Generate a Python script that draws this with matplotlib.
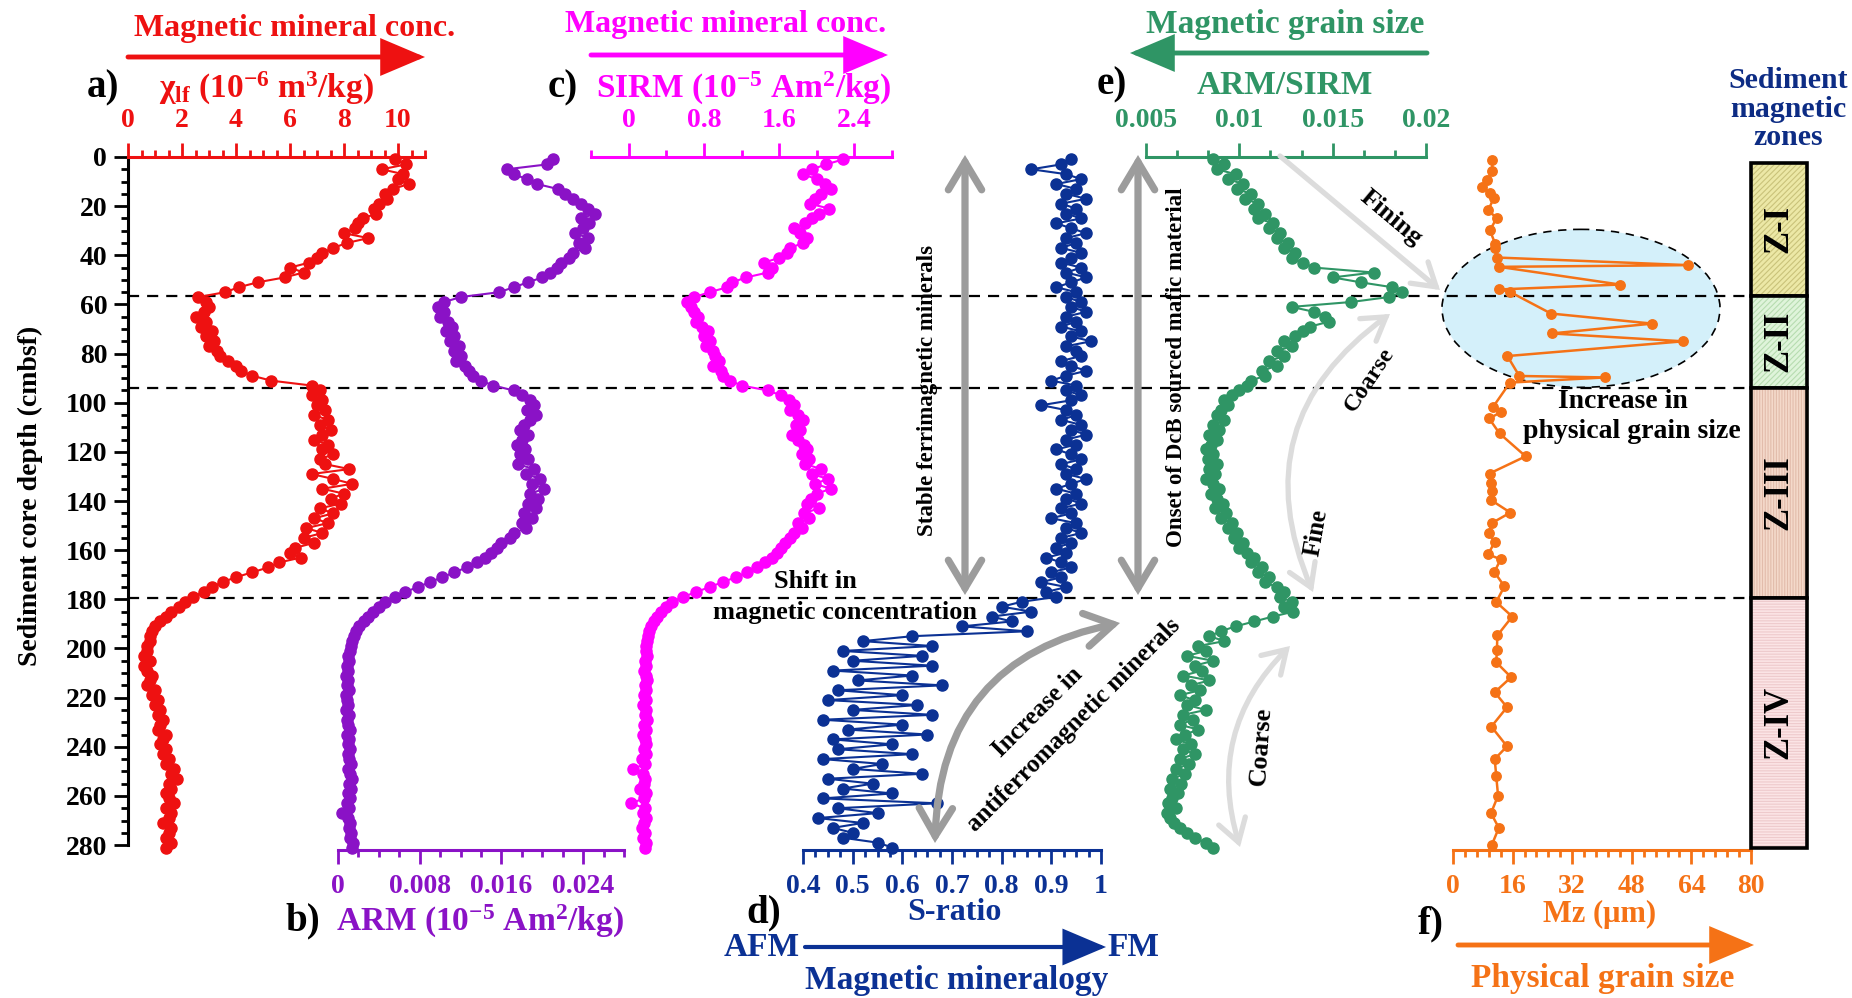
import numpy as np
import matplotlib
matplotlib.use("Agg")
import matplotlib.pyplot as plt
from matplotlib.patches import Ellipse, Rectangle, FancyArrowPatch
from matplotlib.ticker import MultipleLocator, AutoMinorLocator, FuncFormatter

plt.rcParams['font.family'] = ['Liberation Serif', 'DejaVu Serif']
plt.rcParams['font.weight'] = 'bold'
plt.rcParams['mathtext.fontset'] = 'custom'
plt.rcParams['mathtext.rm'] = 'Liberation Serif:bold'
plt.rcParams['mathtext.it'] = 'Liberation Serif:bold'
plt.rcParams['mathtext.bf'] = 'Liberation Serif:bold'
plt.rcParams['mathtext.default'] = 'rm'
plt.rcParams['hatch.linewidth'] = 0.8

# ---- core data (sampled every 2 cm) ----
depth = np.arange(1, 282, 2)

chi_lf = [9.9, 10.3, 9.4, 10.2, 10.0, 10.4, 9.8, 9.5, 9.6, 9.3,
          9.1, 9.2, 8.7, 8.5, 8.4, 8.0, 8.9, 8.1, 7.6, 7.2,
          7.0, 6.7, 6.0, 6.5, 5.8, 4.8, 4.1, 3.6, 2.6, 2.9,
          3.0, 2.8, 2.5, 2.9, 2.7, 3.1, 2.9, 3.2, 3.0, 3.3,
          3.4, 3.7, 4.0, 4.2, 4.6, 5.3, 6.8, 7.1, 6.8, 7.2,
          7.0, 7.3, 6.9, 7.4, 7.1, 7.5, 7.2, 6.9, 7.4, 7.2,
          7.6, 7.1, 7.3, 8.2, 6.8, 7.6, 8.3, 7.2, 8.0, 7.5,
          7.9, 7.1, 7.6, 6.9, 7.4, 6.6, 7.2, 6.5, 6.9, 6.2,
          6.0, 6.4, 5.6, 5.2, 4.6, 4.0, 3.5, 3.1, 2.8, 2.4,
          2.1, 1.9, 1.6, 1.4, 1.2, 1.0, 0.9, 0.8, 0.8, 0.7,
          0.7, 0.6, 0.8, 0.6, 0.7, 0.9, 0.8, 0.7, 1.0, 0.9,
          1.1, 1.0, 1.2, 1.1, 1.3, 1.2, 1.1, 1.4, 1.3, 1.2,
          1.4, 1.3, 1.5, 1.4, 1.7, 1.6, 1.8, 1.5, 1.6, 1.4,
          1.5, 1.7, 1.4, 1.6, 1.5, 1.3, 1.6, 1.5, 1.4, 1.6,
          1.4]

arm = [0.0210, 0.0205, 0.0165, 0.0172, 0.0185, 0.0195, 0.0215, 0.0222, 0.0230, 0.0238,
       0.0245, 0.0252, 0.0238, 0.0246, 0.0240, 0.0232, 0.0245, 0.0236, 0.0242, 0.0230,
       0.0226, 0.0218, 0.0214, 0.0208, 0.0200, 0.0186, 0.0172, 0.0158, 0.0120, 0.0104,
       0.0098, 0.0104, 0.0100, 0.0108, 0.0112, 0.0106, 0.0114, 0.0110, 0.0118, 0.0114,
       0.0120, 0.0116, 0.0124, 0.0128, 0.0132, 0.0140, 0.0152, 0.0172, 0.0180, 0.0188,
       0.0192, 0.0185, 0.0194, 0.0188, 0.0182, 0.0178, 0.0186, 0.0180, 0.0175, 0.0183,
       0.0178, 0.0186, 0.0176, 0.0192, 0.0184, 0.0198, 0.0190, 0.0202, 0.0188, 0.0196,
       0.0186, 0.0194, 0.0182, 0.0190, 0.0180, 0.0184, 0.0172, 0.0168, 0.0160, 0.0156,
       0.0150, 0.0144, 0.0136, 0.0126, 0.0114, 0.0102, 0.0090, 0.0078, 0.0066, 0.0056,
       0.0046, 0.0040, 0.0034, 0.0029, 0.0025, 0.0021, 0.0018, 0.0016, 0.0014, 0.0013,
       0.0012, 0.0010, 0.0011, 0.0009, 0.0010, 0.0008, 0.0010, 0.0009, 0.0011, 0.0008,
       0.0009, 0.0010, 0.0008, 0.0011, 0.0009, 0.0010, 0.0012, 0.0009, 0.0011, 0.0010,
       0.0012, 0.0010, 0.0011, 0.0013, 0.0010, 0.0012, 0.0014, 0.0011, 0.0013, 0.0010,
       0.0012, 0.0009, 0.0011, 0.0004, 0.0010, 0.0012, 0.0011, 0.0013, 0.0012, 0.0015,
       0.0014]

sirm = [2.28, 2.10, 1.95, 1.85, 2.00, 2.09, 2.15, 2.05, 1.98, 1.93,
        2.13, 2.02, 1.95, 1.88, 1.76, 1.82, 1.90, 1.85, 1.72, 1.68,
        1.60, 1.44, 1.52, 1.48, 1.25, 1.10, 1.05, 0.86, 0.70, 0.62,
        0.66, 0.70, 0.74, 0.72, 0.78, 0.84, 0.80, 0.86, 0.82, 0.90,
        0.92, 0.96, 0.90, 0.98, 1.00, 1.08, 1.20, 1.48, 1.62, 1.70,
        1.76, 1.72, 1.80, 1.85, 1.78, 1.82, 1.74, 1.80, 1.86, 1.90,
        1.84, 1.92, 1.88, 2.05, 1.95, 2.12, 1.98, 2.15, 2.00, 1.94,
        1.90, 2.02, 1.86, 1.92, 1.80, 1.84, 1.76, 1.72, 1.66, 1.62,
        1.58, 1.52, 1.45, 1.36, 1.26, 1.14, 1.00, 0.86, 0.72, 0.58,
        0.46, 0.40, 0.34, 0.30, 0.27, 0.24, 0.22, 0.21, 0.20, 0.19,
        0.18, 0.20, 0.17, 0.19, 0.16, 0.18, 0.20, 0.17, 0.19, 0.16,
        0.18, 0.15, 0.19, 0.17, 0.20, 0.16, 0.18, 0.15, 0.17, 0.19,
        0.16, 0.18, 0.14, 0.17, 0.05, 0.15, 0.17, 0.16, 0.12, 0.18,
        0.16, 0.03, 0.17, 0.15, 0.18, 0.16, 0.14, 0.17, 0.15, 0.18,
        0.17]

s_ratio = [0.94, 0.92, 0.86, 0.93, 0.96, 0.91, 0.95, 0.93, 0.97, 0.92,
           0.95, 0.93, 0.96, 0.91, 0.94, 0.97, 0.93, 0.95, 0.92, 0.96,
           0.94, 0.92, 0.96, 0.93, 0.97, 0.94, 0.91, 0.95, 0.93, 0.96,
           0.94, 0.97, 0.93, 0.95, 0.92, 0.96, 0.94, 0.98, 0.93, 0.95,
           0.96, 0.92, 0.94, 0.97, 0.93, 0.90, 0.95, 0.93, 0.96, 0.94,
           0.88, 0.93, 0.95, 0.92, 0.96, 0.94, 0.97, 0.93, 0.95, 0.91,
           0.94, 0.96, 0.92, 0.95, 0.93, 0.97, 0.94, 0.91, 0.95, 0.93,
           0.96, 0.92, 0.94, 0.90, 0.95, 0.93, 0.96, 0.92, 0.94, 0.91,
           0.93, 0.89, 0.92, 0.94, 0.90, 0.92, 0.88, 0.93, 0.89, 0.91,
           0.84, 0.80, 0.86, 0.78, 0.82, 0.72, 0.85, 0.62, 0.52, 0.66,
           0.48, 0.64, 0.50, 0.66, 0.46, 0.62, 0.51, 0.68, 0.47, 0.60,
           0.45, 0.63, 0.50, 0.66, 0.44, 0.60, 0.49, 0.65, 0.46, 0.58,
           0.47, 0.62, 0.44, 0.56, 0.50, 0.64, 0.45, 0.54, 0.48, 0.58,
           0.44, 0.67, 0.47, 0.55, 0.43, 0.52, 0.46, 0.50, 0.48, 0.55,
           0.58]

arm_sirm = [0.0086, 0.0092, 0.0088, 0.0098, 0.0094, 0.0102, 0.0099, 0.0106, 0.0103, 0.0110,
            0.0108, 0.0114, 0.0110, 0.0118, 0.0116, 0.0122, 0.0120, 0.0126, 0.0124, 0.0130,
            0.0128, 0.0134, 0.0140, 0.0172, 0.0150, 0.0165, 0.0182, 0.0187, 0.0180, 0.0160,
            0.0128, 0.0140, 0.0146, 0.0148, 0.0138, 0.0134, 0.0130, 0.0124, 0.0128, 0.0120,
            0.0124, 0.0116, 0.0120, 0.0112, 0.0114, 0.0106, 0.0104, 0.0100, 0.0096, 0.0092,
            0.0094, 0.0090, 0.0088, 0.0092, 0.0086, 0.0089, 0.0084, 0.0088, 0.0085, 0.0082,
            0.0086, 0.0083, 0.0088, 0.0084, 0.0087, 0.0082, 0.0086, 0.0089, 0.0085, 0.0088,
            0.0091, 0.0087, 0.0093, 0.0090, 0.0096, 0.0094, 0.0099, 0.0097, 0.0102, 0.0100,
            0.0104, 0.0108, 0.0106, 0.0112, 0.0110, 0.0116, 0.0114, 0.0120, 0.0124, 0.0122,
            0.0128, 0.0124, 0.0129, 0.0118, 0.0108, 0.0098, 0.0090, 0.0084, 0.0092, 0.0078,
            0.0082, 0.0072, 0.0086, 0.0076, 0.0080, 0.0070, 0.0084, 0.0074, 0.0079, 0.0068,
            0.0076, 0.0072, 0.0082, 0.0070, 0.0075, 0.0068, 0.0078, 0.0071, 0.0066, 0.0074,
            0.0070, 0.0076, 0.0068, 0.0073, 0.0066, 0.0071, 0.0064, 0.0069, 0.0063, 0.0067,
            0.0064, 0.0062, 0.0066, 0.0061, 0.0063, 0.0065, 0.0068, 0.0072, 0.0076, 0.0082,
            0.0086]

# grain size has its own sampling
mz_depth = [1.2, 5.9, 9.4, 12.1, 14.8, 16.8, 21.6, 25.0, 29.8, 35.2, 37.2, 40.9, 44.0, 44.7,
            51.9, 53.9, 54.9, 63.7, 67.8, 71.8, 75.0, 81.0, 89.1, 89.7, 91.8, 101.6, 103.7,
            106.4, 112.5, 121.8, 128.8, 132.6, 135.9, 139.7, 144.7, 148.9, 152.9, 156.7,
            161.7, 163.7, 168.9, 174.7, 181.1, 187.0, 194.7, 200.5, 205.6, 211.7, 217.8,
            223.9, 231.8, 239.8, 245.0, 251.8, 259.9, 267.0, 273.0, 280.0]
mz = [10.4, 10.6, 9.1, 7.9, 9.9, 10.9, 9.5, 11.7, 9.9, 11.3, 11.3, 11.7, 63.2, 12.4,
      44.8, 12.4, 15.3, 26.3, 53.5, 26.5, 61.8, 14.6, 17.8, 40.8, 15.3, 10.8, 13.0,
      9.7, 12.5, 19.5, 9.8, 10.3, 10.6, 10.3, 15.4, 10.5, 9.6, 11.2,
      9.4, 12.8, 11.1, 13.8, 11.6, 15.9, 11.9, 11.8, 11.6, 15.6, 11.2,
      14.5, 10.3, 14.5, 11.2, 11.6, 12.1, 10.2, 12.3, 10.4]

zone_edges = [2.5, 56.4, 94.0, 179.5, 281.0]
zone_names = ['Z-I', 'Z-II', 'Z-III', 'Z-IV']
zone_face = ['#ece8a6', '#dff4da', '#f4d9ca', '#fbe4e5']
zone_hatch_col = ['#c9c27a', '#b7dcb0', '#e2bcab', '#eecacc']
zone_hatch = ['//////', '//////', '||||||', '------']

RED, PURPLE, MAGENTA = '#ee1111', '#8a12c6', '#ff00ff'
BLUE, GREEN, ORANGE = '#0b3194', '#2f9565', '#f57216'
NAVY = '#0d2c84'
DARKGRAY, LIGHTGRAY = '#9c9c9c', '#dcdcdc'

W, H = 1852, 998
TOP, BOT = 157, 850          # pixel rows of depth 0 and the lower axes
fig = plt.figure(figsize=(W / 100, H / 100), dpi=100)


def rect(x0, x1):
    return [x0 / W, 1 - BOT / H, (x1 - x0) / W, (BOT - TOP) / H]


def fmt(v, pos):
    return f'{v:g}'


def panel(x0, x1, side, color, xlim, major, nminor):
    ax = fig.add_axes(rect(x0, x1))
    ax.set_facecolor('none')
    ax.set_xlim(*xlim)
    ax.set_ylim(282, 0)
    for s in ax.spines.values():
        s.set_visible(False)
    ax.spines[side].set_visible(True)
    ax.spines[side].set_color(color)
    ax.spines[side].set_linewidth(2.2)
    ax.xaxis.set_ticks_position(side)
    ax.xaxis.set_major_locator(MultipleLocator(major))
    ax.xaxis.set_minor_locator(AutoMinorLocator(nminor))
    ax.xaxis.set_major_formatter(FuncFormatter(fmt))
    ax.tick_params(axis='x', which='both', colors=color, width=2, direction='out',
                   labelsize=20, pad=7)
    ax.tick_params(axis='x', which='major', length=10)
    ax.tick_params(axis='x', which='minor', length=5)
    ax.tick_params(axis='y', which='both', left=False, labelleft=False)
    return ax


def trace(ax, x, y, color, ms=8, lw=1.5):
    ax.plot(x, y, '-o', color=color, ms=ms, lw=lw, clip_on=False)


# background layer: zone boundaries and highlight ellipse
bg = fig.add_axes([0, 1 - BOT / H, 1, (BOT - TOP) / H])
bg.set_xlim(0, W)
bg.set_ylim(282, 0)
bg.axis('off')
bg.set_zorder(-1)
bg.add_patch(Ellipse((1581, 61.6), 278, 64.3, facecolor='#d4f0fa', edgecolor='k',
                     ls=(0, (5, 4)), lw=1.2, zorder=1))
bg.hlines(zone_edges[1:-1], 128, 1751, colors='k', linestyles=(0, (5, 3.6)), lw=1.6, zorder=2)

ax_a = panel(128, 425, 'top', RED, (0, 11), 2, 4)
ax_a.spines['left'].set_visible(True)
ax_a.spines['left'].set_bounds(0, 280)
ax_a.spines['left'].set_linewidth(2.2)
ax_a.yaxis.set_major_locator(MultipleLocator(20))
ax_a.yaxis.set_minor_locator(MultipleLocator(5))
ax_a.tick_params(axis='y', which='both', left=True, labelleft=True, colors='k', width=2,
                 direction='out', labelsize=20, pad=5)
ax_a.tick_params(axis='y', which='major', length=10)
ax_a.tick_params(axis='y', which='minor', length=5)
trace(ax_a, chi_lf, depth, RED)

ax_b = panel(338, 624, 'bottom', PURPLE, (0, 0.028), 0.008, 4)
trace(ax_b, arm, depth, PURPLE)

ax_c = panel(591, 892, 'top', MAGENTA, (-0.4, 2.8), 0.8, 2)
trace(ax_c, sirm, depth, MAGENTA)

ax_d = panel(803, 1101, 'bottom', BLUE, (0.4, 1.0), 0.1, 4)
trace(ax_d, s_ratio, depth, BLUE)

ax_e = panel(1146, 1426, 'top', GREEN, (0.005, 0.02), 0.005, 3)
trace(ax_e, arm_sirm, depth, GREEN)

ax_f = panel(1453, 1751, 'bottom', ORANGE, (0, 80), 16, 5)
trace(ax_f, mz, mz_depth, ORANGE, ms=6.8, lw=1.8)

# zone column
zax = fig.add_axes(rect(1751, 1807))
zax.set_xlim(0, 1)
zax.set_ylim(282, 0)
zax.axis('off')
for i, name in enumerate(zone_names):
    top, bot = zone_edges[i], zone_edges[i + 1]
    zax.add_patch(Rectangle((0, top), 1, bot - top, facecolor=zone_face[i],
                            edgecolor=zone_hatch_col[i], hatch=zone_hatch[i], lw=0))
    zax.add_patch(Rectangle((0, top), 1, bot - top, facecolor='none', edgecolor='k',
                            lw=2.6, clip_on=False))
    zax.text(0.5, (top + bot) / 2, name, rotation=90, ha='center', va='center',
             fontsize=25, color='k')

# overlay layer in pixel coordinates for labels and arrows
ov = fig.add_axes([0, 0, 1, 1])
ov.set_xlim(0, W)
ov.set_ylim(H, 0)
ov.axis('off')
ov.set_zorder(5)


def txt(x, y, s, color='k', size=19, **kw):
    ov.text(x, y, s, color=color, fontsize=size, ha='center', va='center', **kw)


def arrow(p0, p1, style, color, lw, rad=0.0, ms=20):
    ov.add_patch(FancyArrowPatch(p0, p1, arrowstyle=style, color=color, lw=lw,
                                 connectionstyle=f'arc3,rad={rad}', mutation_scale=ms,
                                 shrinkA=0, shrinkB=0, joinstyle='miter'))


head = '-|>,head_length=1.3,head_width=0.55'

# panel a
txt(295, 28, 'Magnetic mineral conc.', RED, 23)
arrow((128, 57), (425, 57), head, RED, 3.5)
txt(103, 88, 'a)', 'k', 28)
txt(266, 88, r'χ$_{\mathrm{lf}}$ (10$^{\mathrm{-6}}$ m$^{\mathrm{3}}$/kg)', RED, 24)
txt(30, 496, 'Sediment core depth (cmbsf)', 'k', 20, rotation=90)

# panel c
txt(726, 24, 'Magnetic mineral conc.', MAGENTA, 23)
arrow((591, 55), (888, 55), head, MAGENTA, 3.5)
txt(563, 88, 'c)', 'k', 28)
txt(744, 88, r'SIRM (10$^{\mathrm{-5}}$ Am$^{\mathrm{2}}$/kg)', MAGENTA, 24)

# panel e
txt(1285, 24, 'Magnetic grain size', GREEN, 24)
arrow((1427, 53), (1130, 53), head, GREEN, 3.5)
txt(1112, 85, 'e)', 'k', 28)
txt(1285, 85, 'ARM/SIRM', GREEN, 24)

txt(1788, 109, 'Sediment\nmagnetic\nzones', NAVY, 21.5, linespacing=1.05)

# panel b
txt(303, 921, 'b)', 'k', 28)
txt(480, 921, r'ARM (10$^{\mathrm{-5}}$ Am$^{\mathrm{2}}$/kg)', PURPLE, 24)

# panel d
txt(764, 913, 'd)', 'k', 28)
txt(954, 913, 'S-ratio', BLUE, 23)
txt(762, 947, 'AFM', BLUE, 24)
arrow((805, 947), (1106, 947), head, BLUE, 3.0)
txt(1133, 947, 'FM', BLUE, 24)
txt(957, 980, 'Magnetic mineralogy', BLUE, 24)

# panel f
txt(1431, 924, 'f)', 'k', 28)
txt(1600, 914, 'Mz (μm)', ORANGE, 22)
arrow((1458, 945), (1754, 945), head, ORANGE, 3.5)
txt(1603, 978, 'Physical grain size', ORANGE, 24)

# interpretation arrows and notes
chev = '<->,head_length=1.0,head_width=0.6'
arrow((965, 155), (965, 595), chev, DARKGRAY, 5.2)
arrow((1138, 155), (1138, 595), chev, DARKGRAY, 5.2)
arrow((935, 843), (1120, 623), chev, DARKGRAY, 5.2, rad=-0.4)
txt(927, 390, 'Stable ferrimagnetic minerals', 'k', 16.5, rotation=90)
txt(1177, 367, 'Onset of DcB sourced mafic material', 'k', 16.5, rotation=90)
txt(815, 582, 'Shift in', 'k', 19)
txt(845, 612, 'magnetic concentration', 'k', 19)
txt(1038, 712, 'Increase in', 'k', 18, rotation=45)
txt(1074, 725, 'antiferromagnetic minerals', 'k', 18, rotation=45)

light = '<->,head_length=0.8,head_width=0.5'
arrow((1280, 156), (1440, 290), '->,head_length=0.8,head_width=0.5', LIGHTGRAY, 3.8)
arrow((1390, 314), (1313, 592), light, LIGHTGRAY, 3.8, rad=0.4)
arrow((1290, 646), (1240, 847), light, LIGHTGRAY, 3.8, rad=0.3)
txt(1391, 218, 'Fining', 'k', 19, rotation=-40)
txt(1370, 380, 'Coarse', 'k', 17.5, rotation=56)
txt(1316, 533, 'Fine', 'k', 18, rotation=80)
txt(1261, 746, 'Coarse', 'k', 19, rotation=86)
txt(1623, 402, 'Increase in', 'k', 20)
txt(1632, 432, 'physical grain size', 'k', 20)

fig.savefig('out.png', dpi=100)
